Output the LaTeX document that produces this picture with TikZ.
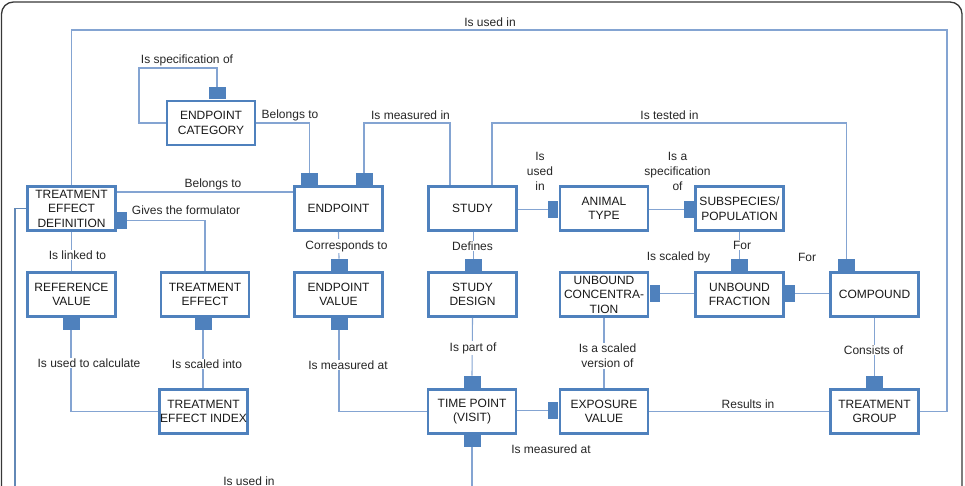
\documentclass[tikz,border=0pt]{standalone}
\usepackage{fontspec}
\setmainfont{Liberation Sans}
\definecolor{boxblue}{RGB}{79,129,189}
\definecolor{lineblue}{RGB}{132,164,210}
\definecolor{sideblue}{RGB}{98,136,182}
\definecolor{framegray}{RGB}{55,55,55}

\begin{document}
\begin{tikzpicture}[x=1pt,y=-1pt,
    entity/.style={draw=boxblue,line width=2.6pt,fill=white,minimum width=88pt,minimum height=44pt,
      inner sep=0pt,align=center,text=black!90,font=\fontsize{12}{14.5}\selectfont},
    tabh/.style={fill=boxblue,minimum width=17pt,minimum height=12pt,inner sep=0pt},
    tabv/.style={fill=boxblue,minimum width=10pt,minimum height=17pt,inner sep=0pt},
    conn/.style={draw=lineblue,line width=1.1pt},
    rel/.style={inner sep=1pt,align=center,text=black!85,font=\fontsize{12}{15}\selectfont},
    relw/.style={rel,fill=white}]
      \useasboundingbox (0,0) rectangle (965,486);
      \clip (0,0) rectangle (965,486);

      \draw[framegray,line width=1.3pt,rounded corners=12pt] (1.5,2) rectangle (962,530);

      % entities
      \node[entity] (cat) at (211,123) {ENDPOINT\\CATEGORY};
      \node[entity] (ted) at (71.5,208.5) {TREATMENT\\EFFECT\\DEFINITION};
      \node[entity] (endpt) at (338.5,208.5) {ENDPOINT};
      \node[entity] (study) at (472.5,208.5) {STUDY};
      \node[entity] (animal) at (604,208.5) {ANIMAL\\TYPE};
      \node[entity] (subsp) at (739.5,208.5) {SUBSPECIES/\\POPULATION};
      \node[entity] (refval) at (71.5,294.5) {REFERENCE\\VALUE};
      \node[entity] (teff) at (205,294.5) {TREATMENT\\EFFECT};
      \node[entity] (epval) at (338.5,294.5) {ENDPOINT\\VALUE};
      \node[entity] (design) at (472.5,294.5) {STUDY\\DESIGN};
      \node[entity] (ubconc) at (604,294.5) {UNBOUND\\CONCENTRA-\\TION};
      \node[entity] (ubfrac) at (739.5,294.5) {UNBOUND\\FRACTION};
      \node[entity] (compound) at (874.5,294.5) {COMPOUND};
      \node[entity] (tei) at (203.5,411.5) {TREATMENT\\EFFECT INDEX};
      \node[entity] (visit) at (472,411.5) {TIME POINT\\(VISIT)};
      \node[entity] (exposure) at (604,411.5) {EXPOSURE\\VALUE};
      \node[entity] (tgroup) at (874.5,411.5) {TREATMENT\\GROUP};

      % tabs
      \node[tabh,anchor=south] (catT) at (217,99) {};
      \node[tabh,anchor=south] (epT1) at (309.5,185) {};
      \node[tabh,anchor=south] (epT2) at (364,185) {};
      \node[tabv,anchor=west] (tedR) at (117,220.5) {};
      \node[tabh,anchor=north] (refB) at (71,318) {};
      \node[tabh,anchor=north] (teffB) at (203,318) {};
      \node[tabh,anchor=south] (epvT) at (339,271) {};
      \node[tabh,anchor=north] (epvB) at (339,318) {};
      \node[tabh,anchor=south] (desT) at (473.5,271) {};
      \node[tabh,anchor=south] (visT) at (472,388) {};
      \node[tabh,anchor=north] (visB) at (472,435) {};
      \node[tabv,anchor=east] (expL) at (558,410.5) {};
      \node[tabv,anchor=east] (aniL) at (558,209.5) {};
      \node[tabv,anchor=east] (subL) at (694,209.5) {};
      \node[tabh,anchor=south] (ufT) at (739.5,271) {};
      \node[tabv,anchor=west] (ucR) at (650,293.5) {};
      \node[tabv,anchor=west] (ufR) at (785,293.5) {};
      \node[tabh,anchor=south] (cmpT) at (846.5,271) {};
      \node[tabh,anchor=south] (tgT) at (874.5,388) {};

      \coordinate (leftEnd) at (15,495);
      \coordinate (visEnd) at (472,495);

      % connectors
      \draw[conn] (cat.west) -| (139,68) -| (catT.north);
      \draw[conn] (cat.east) -| (epT1.north);
      \draw[conn] (ted.east |- 0,192) -- (endpt.west |- 0,192);
      \draw[conn] (tedR.east) -| (teff.north);
      \draw[conn] (ted.north) |- (947,30) |- (tgroup.east);
      \draw[conn,draw=sideblue,line width=1.6pt] (ted.west) -| (leftEnd);
      \draw[conn] (ted.south) -- (refval.north);
      \draw[conn] (refB.south) |- (tei.west);
      \draw[conn] (teffB.south) -- (teffB.south |- tei.north);
      \draw[conn] (endpt.south) -- (epvT.north);
      \draw[conn] (epT2.north) |- (450,123) -- (study.north -| 450,0);
      \draw[conn] (desT.north |- study.south) -- (desT.north);
      \draw[conn] (epvB.south) |- (visit.west);
      \draw[conn] (design.south) -- (visT.north);
      \draw[conn] (visB.south) -- (visEnd);
      \draw[conn] (expL.west -| visit.east) -- (expL.west);
      \draw[conn] (ubconc.south) -- (exposure.north);
      \draw[conn] (aniL.west -| study.east) -- (aniL.west);
      \draw[conn] (study.north -| 492,0) |- (cmpT.north |- 0,123) -- (cmpT.north);
      \draw[conn] (subL.west -| animal.east) -- (subL.west);
      \draw[conn] (subsp.south) -- (ufT.north);
      \draw[conn] (ucR.east -| ubfrac.west) -- (ucR.east);
      \draw[conn] (ufR.east -| compound.west) -- (ufR.east);
      \draw[conn] (compound.south) -- (tgT.north);
      \draw[conn] (exposure.east) -- (tgroup.west);

      % relation labels
      \node[rel] (lSpec) at (187,60) {Is specification of};
      \node[rel] (lBel1) at (290,115) {Belongs to};
      \node[rel] (lBel2) at (213,184) {Belongs to};
      \node[rel] (lGive) at (186,210) {Gives the formulator};
      \node[rel] (lUse1) at (490,22) {Is used in};
      \node[relw] (lLink) at (77.5,255) {Is linked to};
      \node[relw] (lCalc) at (89,363) {Is used to calculate};
      \node[relw] (lScInto) at (207,364) {Is scaled into};
      \node[relw] (lCorr) at (346.5,246) {Corresponds to};
      \node[rel] (lMeasIn) at (410.5,115) {Is measured in};
      \node[relw] (lDef) at (472.5,246) {Defines};
      \node[relw] (lMeasAt1) at (348,365) {Is measured at};
      \node[relw] (lPart) at (473,348) {Is part of};
      \node[rel] (lMeasAt2) at (551,449) {Is measured at};
      \node[relw] (lScVer) at (607.5,356) {Is a scaled\\version of};
      \node[rel] (lUse2) at (540,171) {Is\\used\\in};
      \node[rel] (lTest) at (669.5,115) {Is tested in};
      \node[rel] (lSpec2) at (677.5,171) {Is a\\specification\\of};
      \node[relw] (lFor1) at (742,245) {For};
      \node[rel] (lScBy) at (678.5,257) {Is scaled by};
      \node[rel] (lFor2) at (807,257) {For};
      \node[relw] (lCons) at (873.5,350) {Consists of};
      \node[rel] (lRes) at (748,404) {Results in};
      \node[rel] (lUse3) at (249,481) {Is used in};
    \end{tikzpicture}
\end{document}
